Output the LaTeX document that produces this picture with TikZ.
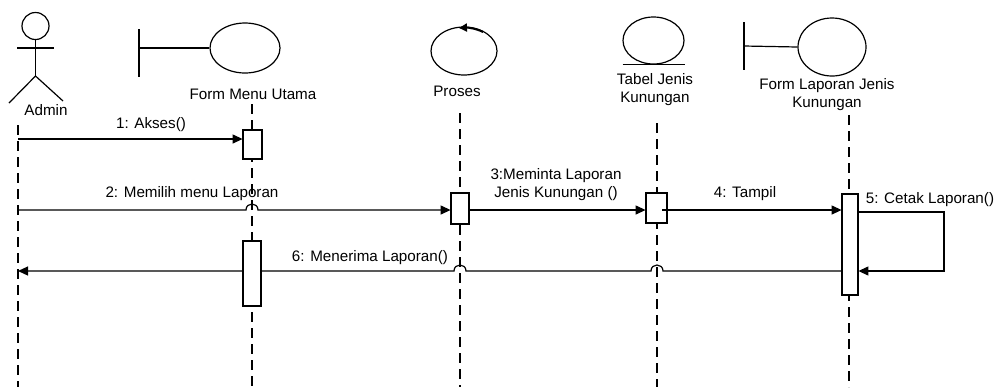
\documentclass[tikz,border=0pt]{standalone}
\usepackage{fontspec}
\setmainfont{Liberation Sans}
\usetikzlibrary{arrows.meta,calc,shapes.geometric}
\begin{document}
\begin{tikzpicture}[x=0.5pt,y=-0.5pt,
  every node/.style={font=\fontsize{7.6}{8.6}\selectfont, inner sep=0pt, align=center, text=black},
  shp/.style={draw=black, line width=0.6pt},
  oval/.style={draw=black, line width=0.6pt, ellipse, inner sep=0pt},
  life/.style={draw=black, line width=0.6pt, dash pattern=on 5pt off 3pt},
  actbox/.style={draw=black, fill=white, line width=0.6pt, inner sep=0pt},
  msg/.style={draw=black, line width=0.6pt, -{Triangle[length=5pt,width=4.5pt]}},
  line/.style={draw=black, line width=0.6pt}
]
\useasboundingbox (0,0) rectangle (1000,387);

% ---------- Admin actor ----------
\node[draw=black, line width=0.6pt, circle, minimum size=13.5pt] (admHead) at (35.5,26) {};
\coordinate (admHip) at (35.5,76);
\coordinate (admArmL) at (17,48);
\coordinate (admArmR) at (54,48);
\coordinate (admLegL) at (9,103);
\coordinate (admLegR) at (63,101);
\draw[shp] (admHead.south) -- (admHip);
\draw[shp] (admArmL) -- (admArmR);
\draw[shp] (admLegL) -- (admHip) -- (admLegR);
\node (admL) at (46,110) {Admin};

% ---------- Form Menu Utama (boundary) ----------
\node[oval, minimum width=35pt, minimum height=25pt] (fmE) at (245,48) {};
\coordinate (fmBarT) at (139,29);
\coordinate (fmBarB) at (139,77);
\coordinate (fmBarM) at (139,48);
\draw[shp] (fmBarT) -- (fmBarB);
\draw[shp] (fmBarM) -- (fmE.west);
\node (fmL) at (253,94) {Form Menu Utama};

% ---------- Proses (control) ----------
\node[oval, minimum width=33pt, minimum height=24pt] (prE) at (464,51) {};
\coordinate (prArA) at (483,32);
\coordinate (prArB) at (459,28);
\draw[line width=1pt, -{Triangle[length=4pt,width=4pt]}] (prArA) .. controls (476,28.5) and (468,27.5) .. (prArB);
\node (prL) at (457,91) {Proses};

% ---------- Tabel Jenis Kunungan (entity) ----------
\node[oval, minimum width=30.5pt, minimum height=23.5pt] (tbE) at (653.5,40.5) {};
\draw[shp] ($(tbE.south)+(-31,0)$) -- ($(tbE.south)+(31,0)$);
\node (tbL) at (655,89.5) {Tabel Jenis\\Kunungan};

% ---------- Form Laporan Jenis Kunungan (boundary) ----------
\node[oval, minimum width=34pt, minimum height=29pt] (flE) at (832,47) {};
\coordinate (flBarT) at (744,22);
\coordinate (flBarB) at (744,70);
\coordinate (flBarM) at (744,46);
\draw[shp] (flBarT) -- (flBarB);
\draw[shp] (flBarM) -- (flE.west);
\node (flL) at (827,94.5) {Form Laporan Jenis\\Kunungan};

% ---------- lifelines ----------
\coordinate (admT) at (18,125);   \coordinate (admB) at (18,387);
\coordinate (fmT)  at (252,104);  \coordinate (fmB)  at (252,387);
\coordinate (prT)  at (460,113);  \coordinate (prB)  at (460,387);
\coordinate (tbT)  at (657,123);  \coordinate (tbB)  at (657,387);
\coordinate (flT)  at (849,115);  \coordinate (flB)  at (849,387);
\draw[life] (admT) -- (admB);
\draw[life] (fmT) -- (fmB);
\draw[life] (prT) -- (prB);
\draw[life] (tbT) -- (tbB);
\draw[life] (flT) -- (flB);

% ---------- activation box positions ----------
\coordinate (fm1c) at (252.5,144.5);
\coordinate (fm2c) at (252,273.5);
\coordinate (pr1c) at (460,208.5);
\coordinate (tb1c) at (656.5,208);
\coordinate (fl1c) at (850,244.5);
\path (fm1c) node[minimum width=9.5pt, minimum height=14.5pt] (fm1) {};
\path (fm2c) node[minimum width=9pt, minimum height=32.5pt] (fm2) {};
\path (pr1c) node[minimum width=9pt, minimum height=15.5pt] (pr1) {};
\path (tb1c) node[minimum width=10.5pt, minimum height=15pt] (tb1) {};
\path (fl1c) node[minimum width=8pt, minimum height=50.5pt] (fl1) {};

% message levels
\coordinate (y1) at (0,139);
\coordinate (y2) at (0,210);
\coordinate (y5) at (0,212);
\coordinate (y6) at (0,271);

% ---------- messages ----------
% 1
\draw[msg] (admT |- y1) -- (fm1.west |- y1);
\node (m1) at (151,125) {1: Akses()};
% 2 (hop over Form Menu lifeline)
\draw[msg] (admT |- y2) -- (246,210) .. controls (246,202) and (258,202) .. (258,210) -- (pr1.west |- y2);
\node (m2) at (192,194) {2: Memilih menu Laporan};
% 3
\draw[msg] (pr1.east |- y2) -- (tb1.west |- y2);
\node (m3) at (556,184.5) {3:Meminta Laporan\\Jenis Kunungan ()};
% 5 (self message)
\coordinate (s5a) at (944,212);
\coordinate (s5b) at (944,271);
\draw[msg] (fl1.east |- y5) -- (s5a) -- (s5b) -- (fl1.east |- y6);
\node (m5) at (930,200) {5: Cetak Laporan()};
% 6 (hops over Tabel and Proses lifelines)
\draw[msg] (fl1.west |- y6) -- (663,271) .. controls (663,263) and (651,263) .. (651,271)
  -- (466,271) .. controls (466,263) and (454,263) .. (454,271) -- (admT |- y6);
\node (m6) at (370,258) {6: Menerima Laporan()};

% ---------- activation boxes (on top) ----------
\node[actbox, minimum width=9.5pt, minimum height=14.5pt] at (fm1c) {};
\node[actbox, minimum width=9pt, minimum height=32.5pt] at (fm2c) {};
\node[actbox, minimum width=9pt, minimum height=15.5pt] at (pr1c) {};
\node[actbox, minimum width=10.5pt, minimum height=15pt] at (tb1c) {};
\node[actbox, minimum width=8pt, minimum height=50.5pt] at (fl1c) {};

% 4 (starts just inside the Tabel box)
\draw[msg] ($(tb1.east |- y2)+(-5,0)$) -- (fl1.west |- y2);
\node (m4) at (745,194) {4: Tampil};
\end{tikzpicture}
\end{document}
